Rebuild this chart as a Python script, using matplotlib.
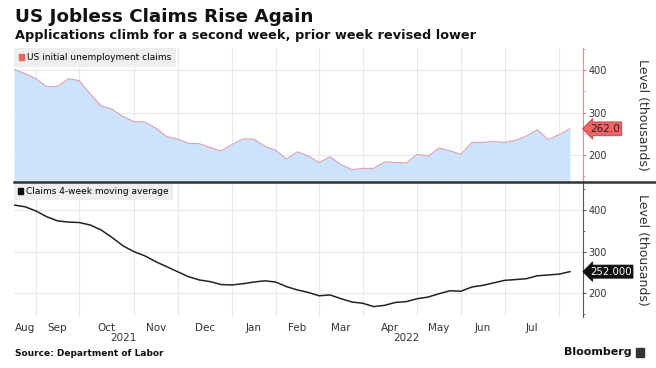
import datetime as dt

import matplotlib.pyplot as plt
from matplotlib.lines import Line2D
from matplotlib.patches import Patch
from matplotlib.ticker import MultipleLocator
import matplotlib.transforms as mtransforms

# Weekly data, Friday-stamped, Aug 13 2021 .. Aug 5 2022 (thousands)
start = dt.date(2021, 8, 13)
weeks = [start + dt.timedelta(days=7 * i) for i in range(52)]

claims = [402, 392, 380, 361, 362, 380, 375, 344, 316, 308, 291, 279, 278,
          264, 244, 238, 228, 227, 218, 210, 225, 238, 238, 221, 212, 191,
          208, 198, 183, 196, 178, 166, 169, 169, 184, 183, 182, 202, 198,
          217, 210, 202, 230, 230, 232, 230, 235, 245, 260, 237, 248, 262]
avg_4wk = [412, 408, 398, 384, 374, 371, 370, 364, 352, 334, 314, 300, 290,
           276, 264, 252, 240, 232, 228, 221, 220, 223, 227, 230, 227, 216,
           208, 202, 194, 196, 187, 179, 176, 168, 171, 178, 180, 187, 191,
           199, 206, 205, 215, 219, 225, 231, 233, 235, 242, 244, 246, 252]
years = ["2021", "2022"]

x = list(range(len(weeks)))

# month boundaries sit on the last week of each month (index axis),
# month names centred between them
bounds = [i for i in range(len(weeks) - 1) if weeks[i].month != weeks[i + 1].month]
edges = [0] + bounds
month_pos = [(a + b) / 2 for a, b in zip(edges[:-1], edges[1:])]
month_names = [weeks[e].strftime("%b") for e in edges[1:]]

# centre of each year's run of weeks
year_pos = []
for y in years:
    idx = [i for i, d in enumerate(weeks) if str(d.year) == y]
    year_pos.append((idx[0] + idx[-1]) / 2)

plt.rcParams["font.family"] = "DejaVu Sans"
GRID = "#e9e9e9"
TXT = "#333333"

fig = plt.figure(figsize=(6.56, 3.68), dpi=100)
W, H = 656, 368


def fig_rect(x0, y0, x1, y1):
    return [x0 / W, 1 - y1 / H, (x1 - x0) / W, (y1 - y0) / H]


ax1 = fig.add_axes(fig_rect(14, 48, 583, 182))
ax2 = fig.add_axes(fig_rect(14, 183, 583, 317))

for ax in (ax1, ax2):
    ax.set_xlim(0, 52.2)
    for s in ("left", "top", "bottom"):
        ax.spines[s].set_visible(False)
    ax.yaxis.tick_right()
    ax.set_yticks([200, 300, 400])
    ax.yaxis.set_minor_locator(MultipleLocator(50))
    ax.set_xticks(bounds, minor=True)
    ax.grid(True, which="minor", axis="x", color=GRID, lw=0.8)
    ax.grid(True, which="major", axis="y", color=GRID, lw=0.8)
    ax.tick_params(axis="y", which="both", labelsize=7, labelcolor=TXT,
                   length=2.5, pad=1.5)
    ax.tick_params(axis="y", which="minor", length=1.5)
    ax.tick_params(axis="x", which="both", length=0)
    ax.set_ylabel("Level (thousands)", rotation=270, fontsize=9, color=TXT,
                  va="center")
    ax.yaxis.set_label_coords((643 - 14) / 569, 0.5)
    ax.set_axisbelow(True)

# top panel: initial claims
red = "#ee8a8a"
ax1.set_ylim(137, 452)
ax1.fill_between(x, claims, 137, color="#cce3fb", lw=0)
ax1.plot(x, claims, color="#d9a0b0", lw=0.8)
ax1.spines["right"].set_color(red)
ax1.tick_params(axis="y", which="both", color=red)
ax1.set_xticks([])
ax1.legend(handles=[Patch(color="#f06262", label="US initial unemployment claims")],
           loc="upper left", bbox_to_anchor=(0, 1), borderaxespad=0,
           fontsize=6.5, frameon=True, facecolor="#eeeeee", edgecolor="none",
           framealpha=1, handlelength=0.6, handleheight=0.6, handletextpad=0.3,
           borderpad=0.55, fancybox=False)
tr1 = mtransforms.blended_transform_factory(ax1.transAxes, ax1.transData)
ax1.text(1.012, claims[-1], f"{claims[-1]:.1f}", transform=tr1, fontsize=7.6,
         color="#222222", va="center", ha="left",
         bbox=dict(boxstyle="larrow,pad=0.18", fc="#f06464", ec="#c04040", lw=0.6))

# bottom panel: 4-week moving average
ax2.set_ylim(143, 465)
ax2.plot(x, avg_4wk, color="#222222", lw=1.1)
ax2.spines["right"].set_color("#555555")
ax2.tick_params(axis="y", which="both", color="#555555")
ax2.set_xticks(month_pos, month_names)
ax2.tick_params(axis="x", which="major", labelsize=7.5, labelcolor=TXT, pad=4)
ax2.legend(handles=[Patch(color="#111111", label="Claims 4-week moving average")],
           loc="upper left", bbox_to_anchor=(0, 1), borderaxespad=0,
           fontsize=6.5, frameon=True, facecolor="#eeeeee", edgecolor="none",
           framealpha=1, handlelength=0.6, handleheight=0.6, handletextpad=0.3,
           borderpad=0.45, fancybox=False)
tr2 = mtransforms.blended_transform_factory(ax2.transAxes, ax2.transData)
ax2.text(1.012, avg_4wk[-1], f"{avg_4wk[-1]:.3f}", transform=tr2, fontsize=7.3,
         color="white", va="center", ha="left",
         bbox=dict(boxstyle="larrow,pad=0.15", fc="#111111", ec="#111111", lw=0.6))

# year labels under the month labels
trx = mtransforms.blended_transform_factory(ax2.transData, fig.transFigure)
for pos, y in zip(year_pos, years):
    ax2.text(pos, 1 - 338 / H, y, transform=trx, fontsize=7.5, color=TXT,
             ha="center", va="center")

# separator between panels
fig.add_artist(Line2D([14 / W, 1], [1 - 182 / H] * 2, color="#333333", lw=1.8,
                      transform=fig.transFigure))

fig.text(15 / W, 1 - 17 / H, "US Jobless Claims Rise Again", fontsize=13.2,
         fontweight="bold", color="#111111", va="center")
fig.text(15 / W, 1 - 36 / H,
         "Applications climb for a second week, prior week revised lower",
         fontsize=9.3, fontweight="bold", color="#111111", va="center")
fig.text(15 / W, 1 - 353 / H, "Source: Department of Labor", fontsize=6.5,
         fontweight="bold", color="#111111", va="center")
fig.text(632 / W, 1 - 352 / H, "Bloomberg", fontsize=8, fontweight="bold",
         color="#111111", va="center", ha="right")
fig.add_artist(plt.Rectangle((636 / W, 1 - 357 / H), 8 / W, 9 / H,
                             color="#333333", transform=fig.transFigure))

fig.savefig("out.png", dpi=100)
